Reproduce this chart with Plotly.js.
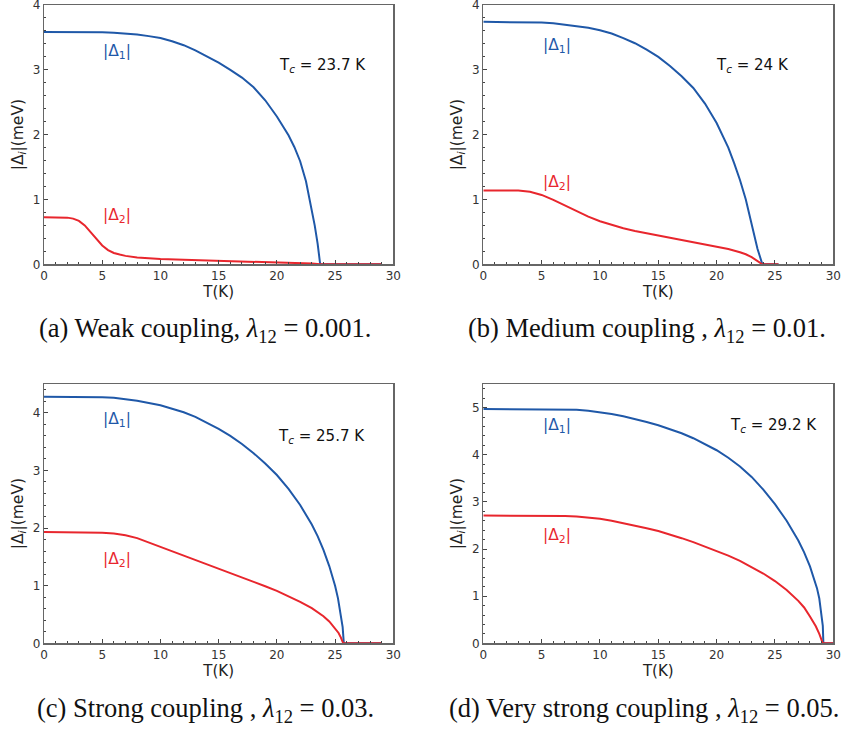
<!DOCTYPE html>
<html>
<head>
<meta charset="utf-8">
<script src="https://cdn.plot.ly/plotly-3.0.1.min.js"></script>
<style>
  html, body { margin: 0; padding: 0; background: #fff; }
  #chart { width: 841px; height: 731px; }
</style>
</head>
<body>
<div id="chart"></div>
<script>
// Gap magnitudes |Δ1| and |Δ2| (meV) versus temperature T (K) for four inter-band couplings.

// (a) weak coupling, λ12 = 0.001
const tA1 = [0, 2, 4, 5, 6, 7, 8, 9, 10, 11, 12, 13, 14, 15, 16, 17, 18, 19, 20, 21, 21.5, 22, 22.5, 23, 23.25, 23.5, 23.72, 29];
const gapA1 = [3.585, 3.585, 3.582, 3.578, 3.572, 3.562, 3.545, 3.52, 3.49, 3.44, 3.38, 3.30, 3.21, 3.11, 3.00, 2.88, 2.73, 2.53, 2.28, 1.99, 1.81, 1.59, 1.28, 0.86, 0.60, 0.32, 0, 0];
const tA2 = [0, 1, 2, 2.5, 3, 3.5, 4, 4.5, 5, 5.5, 6, 6.5, 7, 8, 9, 10, 12, 14, 16, 18, 20, 22, 23, 23.72, 29];
const gapA2 = [0.725, 0.725, 0.72, 0.705, 0.67, 0.60, 0.50, 0.39, 0.29, 0.22, 0.175, 0.15, 0.13, 0.105, 0.09, 0.08, 0.07, 0.06, 0.05, 0.045, 0.035, 0.022, 0.012, 0, 0];

// (b) medium coupling, λ12 = 0.01
const tB1 = [0, 2, 4, 5, 6, 7, 8, 9, 10, 11, 12, 13, 14, 15, 16, 17, 18, 19, 20, 21, 21.5, 22, 22.5, 23, 23.5, 23.92, 25.3];
const gapB1 = [3.74, 3.74, 3.735, 3.73, 3.72, 3.70, 3.68, 3.65, 3.61, 3.56, 3.49, 3.41, 3.31, 3.20, 3.06, 2.90, 2.72, 2.48, 2.18, 1.80, 1.56, 1.30, 1.00, 0.60, 0.24, 0, 0];
const tB2 = [0, 1, 2, 3, 4, 5, 6, 7, 8, 9, 10, 11, 12, 13, 14, 15, 16, 17, 18, 19, 20, 21, 22, 22.5, 23, 23.5, 23.92, 25.3];
const gapB2 = [1.14, 1.14, 1.14, 1.14, 1.12, 1.07, 0.995, 0.905, 0.815, 0.735, 0.665, 0.605, 0.555, 0.515, 0.48, 0.445, 0.41, 0.378, 0.345, 0.31, 0.275, 0.235, 0.185, 0.155, 0.11, 0.055, 0, 0];

// (c) strong coupling, λ12 = 0.03
const tC1 = [0, 2, 4, 5, 6, 7, 8, 9, 10, 11, 12, 13, 14, 15, 16, 17, 18, 19, 20, 21, 22, 23, 23.5, 24, 24.5, 25, 25.25, 25.5, 25.65, 25.75, 29];
const gapC1 = [4.28, 4.28, 4.275, 4.27, 4.26, 4.24, 4.21, 4.17, 4.13, 4.07, 4.01, 3.93, 3.83, 3.72, 3.60, 3.46, 3.30, 3.12, 2.92, 2.68, 2.40, 2.06, 1.86, 1.62, 1.34, 1.0, 0.78, 0.50, 0.28, 0, 0];
const tC2 = [0, 2, 4, 5, 6, 7, 8, 9, 10, 11, 12, 13, 14, 15, 16, 17, 18, 19, 20, 21, 22, 23, 24, 24.5, 25, 25.3, 25.5, 25.7, 29];
const gapC2 = [1.93, 1.93, 1.925, 1.92, 1.905, 1.875, 1.825, 1.75, 1.67, 1.595, 1.52, 1.445, 1.37, 1.295, 1.22, 1.145, 1.07, 0.99, 0.91, 0.82, 0.72, 0.61, 0.47, 0.38, 0.265, 0.18, 0.10, 0, 0];

// (d) very strong coupling, λ12 = 0.05
const tD1 = [0, 2, 4, 6, 7, 8, 9, 10, 11, 12, 13, 14, 15, 16, 17, 18, 19, 20, 21, 22, 23, 24, 25, 26, 27, 27.5, 28, 28.3, 28.6, 28.8, 29, 29.1, 29.15, 30];
const gapD1 = [4.97, 4.97, 4.97, 4.967, 4.962, 4.955, 4.935, 4.905, 4.865, 4.815, 4.76, 4.695, 4.625, 4.545, 4.455, 4.35, 4.23, 4.095, 3.935, 3.75, 3.53, 3.26, 2.95, 2.60, 2.18, 1.93, 1.63, 1.42, 1.17, 0.95, 0.63, 0.37, 0, 0];
const tD2 = [0, 2, 4, 6, 7, 8, 9, 10, 11, 12, 13, 14, 15, 16, 17, 18, 19, 20, 21, 22, 23, 24, 25, 26, 27, 27.5, 28, 28.5, 28.8, 29.1, 30];
const gapD2 = [2.71, 2.71, 2.71, 2.705, 2.70, 2.69, 2.67, 2.64, 2.60, 2.55, 2.495, 2.44, 2.38, 2.31, 2.23, 2.145, 2.055, 1.96, 1.86, 1.75, 1.62, 1.48, 1.32, 1.13, 0.90, 0.76, 0.57, 0.36, 0.20, 0, 0];

// Panel texts
const tcLabels = ["23.7", "24", "25.7", "29.2"];
const captions = [
  "(a) Weak coupling, <i>λ</i><sub>12</sub> = 0.001.",
  "(b) Medium coupling , <i>λ</i><sub>12</sub> = 0.01.",
  "(c) Strong coupling , <i>λ</i><sub>12</sub> = 0.03.",
  "(d) Very strong coupling , <i>λ</i><sub>12</sub> = 0.05."
];
const yRanges = [[0, 4], [0, 4], [0, 4.5], [0, 5.5]];

const W = 841, H = 731;
const BLUE = "#1f58a8", RED = "#e8262d";
const FONT = "DejaVu Sans, sans-serif";

// subplot frames in pixels: [left, right, top, bottom]
const frames = [
  [44, 393.3, 5, 264.3],
  [483.3, 833.3, 5, 264.3],
  [44, 393.3, 384, 643.3],
  [483.3, 833.3, 384, 643.3]
];

const series = [
  [tA1, gapA1, tA2, gapA2],
  [tB1, gapB1, tB2, gapB2],
  [tC1, gapC1, tC2, gapC2],
  [tD1, gapD1, tD2, gapD2]
];

// label anchor positions in data units: [Δ1 x,y], [Δ2 x,y], [Tc x,y]
const labelPos = [
  [[6.27, 3.28], [6.27, 0.75], [23.9, 3.07]],
  [[6.29, 3.36], [6.29, 1.25], [23.1, 3.07]],
  [[6.24, 3.88], [6.24, 1.45], [23.85, 3.59]],
  [[6.29, 4.61], [6.29, 2.28], [24.86, 4.63]]
];
const captionPos = [[37, 330], [466, 330], [35, 710], [447, 710]];

const traces = [];
const layout = {
  width: W, height: H,
  margin: {l: 0, r: 0, t: 0, b: 0},
  paper_bgcolor: "#fff", plot_bgcolor: "#fff",
  showlegend: false,
  annotations: []
};

frames.forEach((f, i) => {
  const n = i + 1;
  const xa = "xaxis" + (n === 1 ? "" : n), ya = "yaxis" + (n === 1 ? "" : n);
  const xr = "x" + (n === 1 ? "" : n), yr = "y" + (n === 1 ? "" : n);
  const [t1, g1, t2, g2] = series[i];
  traces.push({x: t1, y: g1, xaxis: xr, yaxis: yr, mode: "lines",
    line: {color: BLUE, width: 2}, hoverinfo: "skip"});
  traces.push({x: t2, y: g2, xaxis: xr, yaxis: yr, mode: "lines",
    line: {color: RED, width: 2}, hoverinfo: "skip"});

  const common = {
    showgrid: false, zeroline: false,
    showline: true, linecolor: "#666", linewidth: 1.3, mirror: true,
    ticks: "inside", ticklen: 4, tickwidth: 1, tickcolor: "#444",
    tickfont: {family: FONT, size: 12, color: "#333"},
    ticklabeloverflow: "allow",
    fixedrange: true
  };
  layout[xa] = Object.assign({}, common, {
    domain: [f[0] / W, f[1] / W], anchor: yr,
    range: [0, 30], tickmode: "linear", tick0: 0, dtick: 5,
    minor: {ticks: "inside", dtick: 1, ticklen: 2, tickcolor: "#444"},
    title: {text: "T(K)", font: {family: FONT, size: 15, color: "#222"}, standoff: 2}
  });
  layout[ya] = Object.assign({}, common, {
    domain: [1 - f[3] / H, 1 - f[2] / H], anchor: xr,
    range: yRanges[i], tickmode: "linear", tick0: 0, dtick: 1,
    minor: {ticks: "inside", dtick: 0.2, ticklen: 2, tickcolor: "#444"},
    title: {text: "|Δ<sub><i>i</i></sub>|(meV)", font: {family: FONT, size: 15.5, color: "#222"}, standoff: 5}
  });

  const lp = labelPos[i];
  layout.annotations.push(
    {xref: xr, yref: yr, x: lp[0][0], y: lp[0][1], text: "|Δ<sub>1</sub>|", showarrow: false,
     font: {family: FONT, size: 15.5, color: BLUE}},
    {xref: xr, yref: yr, x: lp[1][0], y: lp[1][1], text: "|Δ<sub>2</sub>|", showarrow: false,
     font: {family: FONT, size: 15.5, color: RED}},
    {xref: xr, yref: yr, x: lp[2][0], y: lp[2][1], text: "T<sub><i>c</i></sub> = " + tcLabels[i] + " K",
     showarrow: false, font: {family: FONT, size: 15, color: "#111"}}
  );
  const cp = captionPos[i];
  layout.annotations.push({
    xref: "paper", yref: "paper", x: cp[0] / W, y: 1 - cp[1] / H,
    xanchor: "left", yanchor: "middle", text: captions[i], showarrow: false,
    font: {family: "Liberation Serif, serif", size: 26.5, color: "#111"}
  });
});

Plotly.newPlot("chart", traces, layout, {displayModeBar: false, staticPlot: true});
</script>
</body>
</html>
